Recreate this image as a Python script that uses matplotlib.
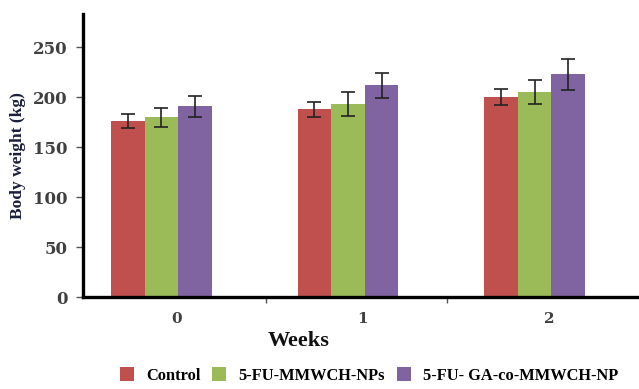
import numpy as np
import matplotlib
matplotlib.use("Agg")
import matplotlib.pyplot as plt
from matplotlib.patches import Patch

# ── Data ─────────────────────────────────────────────────────────────────────
weeks = ["0", "1", "2"]
groups = ["Control", "5-FU-MMWCH-NPs", "5-FU- GA-co-MMWCH-NP"]
control = [176, 188, 200]
mmwch = [180, 193, 205]
ga_mmwch = [191, 212, 223]
control_err = [7, 7.5, 8]
mmwch_err = [9.5, 12, 12]
ga_mmwch_err = [10.5, 12.5, 15.5]
colors = ["#C0504D", "#9BBB59", "#8064A2"]

fig = plt.figure(figsize=(6.39, 3.89), dpi=100)
ax = fig.add_axes([0.130, 0.2365, 0.870, 0.7275])

x = np.arange(len(weeks))
bar_w = 0.18
series = [(control, control_err), (mmwch, mmwch_err), (ga_mmwch, ga_mmwch_err)]
for i, (vals, errs) in enumerate(series):
    ax.bar(x + (i - 1) * bar_w, vals, width=bar_w, color=colors[i],
           edgecolor="none", zorder=2)
    ax.errorbar(x + (i - 1) * bar_w, vals, yerr=errs, fmt="none",
                ecolor="#222222", elinewidth=1.2, capsize=5, capthick=1.2,
                zorder=3)

ax.set_xlim(-0.42, 2.56)
ax.set_ylim(0, 283)

# spines
for s in ["top", "right"]:
    ax.spines[s].set_visible(False)
ax.spines["left"].set_linewidth(2.4)
ax.spines["bottom"].set_linewidth(2.4)

# y ticks
ax.set_yticks([0, 50, 100, 150, 200, 250])
ax.tick_params(axis="y", direction="out", length=5, width=1, color="#555555",
               labelsize=12, labelcolor="#404040", pad=6)
for lab in ax.get_yticklabels():
    lab.set_family("DejaVu Serif")
    lab.set_fontweight("bold")

# x ticks: small marks between groups, labels at group centres
ax.set_xticks([0.56, 1.53])
ax.set_xticklabels([])
ax.tick_params(axis="x", which="major", direction="out", length=4, width=1,
               color="#555555")
ax.set_xticks(x + 0.08, minor=True)
ax.set_xticklabels(weeks, minor=True)
ax.tick_params(axis="x", which="minor", length=0, pad=11, labelsize=11,
               labelcolor="#404040")
for lab in ax.get_xticklabels(minor=True):
    lab.set_family("DejaVu Serif")
    lab.set_fontweight("bold")

ax.set_ylabel("Body weight (kg)", family="Liberation Serif", fontweight="bold",
              fontsize=12.5, color="#1a1f3a", labelpad=5)
fig.text(0.468, 0.123, "Weeks", family="Liberation Serif", fontweight="bold",
         fontsize=16, color="#111111", ha="center", va="center")

handles = [Patch(facecolor=c, edgecolor="none") for c in colors]
fig.legend(handles, groups, loc="center left", bbox_to_anchor=(0.165, 0.035),
           ncol=3, frameon=False, handlelength=0.85, handleheight=0.95,
           handletextpad=0.75, columnspacing=0.7,
           prop={"family": "Liberation Serif", "weight": "bold", "size": 11.8})

fig.savefig("out.png", dpi=100)
